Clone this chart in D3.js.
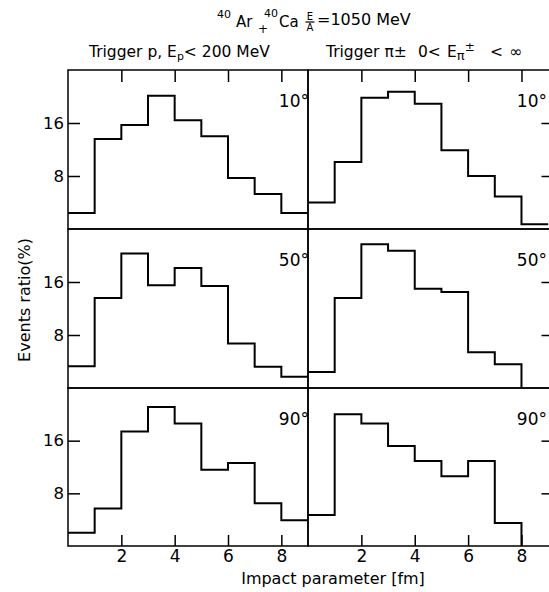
<!DOCTYPE html>
<html><head><meta charset="utf-8">
<script src="https://cdn.jsdelivr.net/npm/d3@7"></script>
<style>
body{margin:0;background:#fff}
svg{display:block}
text{font-family:"DejaVu Sans",sans-serif;fill:#000}
</style>
</head><body>
<svg id="c" width="549" height="592"></svg>
<script>
// ---- data ----
const impactBins = [0,1,2,3,4,5,6,7,8];           // lower bin edges, fm (bin width 1 fm)
const angleLabels = ["10°","50°","90°"];
const xTickValues = [2,4,6,8];
const yTickValues = [8,16];
const proton10 = [2.4, 13.6, 15.7, 20.1, 16.4, 14.0, 7.7, 5.3, 2.4];
const pion10   = [4.0, 10.1, 19.8, 20.7, 18.9, 11.9, 8.0, 4.9, 0.7];
const proton50 = [3.3, 13.6, 20.3, 15.5, 18.1, 15.4, 6.7, 3.2, 1.7];
const pion50   = [2.4, 13.6, 21.7, 20.7, 15.0, 14.5, 5.4, 3.6];
const proton90 = [2.0, 5.7, 17.4, 21.1, 18.6, 11.6, 12.6, 6.5, 3.9];
const pion90   = [4.7, 20.0, 18.6, 15.2, 12.9, 10.6, 12.9, 3.5];
const panelSeries = [[proton10, pion10],[proton50, pion50],[proton90, pion90]];
const yLabel = "Events ratio(%)";
const xLabel = "Impact parameter [fm]";

// ---- layout ----
const svg = d3.select("#c");
const colX = [[68,308],[308,553.5]];
const colDomain = [[0,9],[0,9.2]];
const rowY = [[70,229],[229,388],[388,546]];

panelSeries.forEach((row, r) => {
  row.forEach((vals, c) => {
    const x = d3.scaleLinear().domain(colDomain[c]).range(colX[c]);
    const y = d3.scaleLinear().domain([0,24]).range([rowY[r][1], rowY[r][0]]);
    const g = svg.append("g");
    g.append("rect")
      .attr("x", colX[c][0]).attr("y", rowY[r][0])
      .attr("width", colX[c][1]-colX[c][0]).attr("height", rowY[r][1]-rowY[r][0])
      .attr("fill","none").attr("stroke","#000").attr("stroke-width",1.5);
    const pts = vals.map((v,i) => [impactBins[i], v]);
    const end = impactBins[vals.length-1] + 1;
    pts.push([end, vals[vals.length-1]]);
    if (end < 9) pts.push([end, 0]);
    const line = d3.line().x(d => x(d[0])).y(d => y(d[1])).curve(d3.curveStepAfter);
    g.append("path").attr("d", line(pts)).attr("fill","none")
      .attr("stroke","#000").attr("stroke-width",2).attr("stroke-linejoin","miter");
    if (r === 0) {
      const a = g.append("g").attr("transform",`translate(0,${rowY[r][0]})`)
        .call(d3.axisTop(x).tickValues(xTickValues).tickSize(-12).tickFormat(""));
      a.select(".domain").remove();
    }
    if (r === 2) {
      const a = g.append("g").attr("transform",`translate(0,${rowY[r][1]})`)
        .call(d3.axisBottom(x).tickValues(xTickValues).tickSize(-11).tickPadding(4));
      a.select(".domain").remove();
      a.selectAll("text").style("font-family","DejaVu Sans").style("font-size","17px");
    }
    if (c === 0) {
      const a = g.append("g").attr("transform",`translate(${colX[c][0]},0)`)
        .call(d3.axisLeft(y).tickValues(yTickValues).tickSize(-12).tickPadding(4));
      a.select(".domain").remove();
      a.selectAll("text").style("font-family","DejaVu Sans").style("font-size","16.5px");
    } else {
      const a = g.append("g").attr("transform",`translate(${colX[c][1]},0)`)
        .call(d3.axisRight(y).tickValues(yTickValues).tickSize(-12).tickFormat(""));
      a.select(".domain").remove();
    }
    g.selectAll(".tick line").attr("stroke-width",1.5);
    g.append("text").attr("x", c === 0 ? 309 : 547).attr("y", rowY[r][0]+37)
      .attr("text-anchor","end").style("font-size","17px").text(angleLabels[r]);
  });
});

// ---- title ----
const t = svg.append("g");
t.append("text").attr("x",217).attr("y",18).style("font-size","11px").text("40");
t.append("text").attr("x",236).attr("y",27).style("font-size","15px").text("Ar");
t.append("text").attr("x",258).attr("y",33).style("font-size","12px").text("+");
t.append("text").attr("x",264).attr("y",17).style("font-size","11px").text("40");
t.append("text").attr("x",279).attr("y",27).style("font-size","15px").text("Ca");
t.append("text").attr("x",310).attr("y",20).attr("text-anchor","middle").style("font-size","10px").text("E");
t.append("line").attr("x1",305.5).attr("x2",314.5).attr("y1",22).attr("y2",22).attr("stroke","#000").attr("stroke-width",1.2);
t.append("text").attr("x",310).attr("y",31).attr("text-anchor","middle").style("font-size","10px").text("A");
t.append("text").attr("x",317).attr("y",25).style("font-size","16px").text("=1050 MeV");

// ---- column headings ----
const h1 = svg.append("text").attr("x",89).attr("y",57).style("font-size","15.5px");
h1.append("tspan").text("Trigger p, E");
h1.append("tspan").attr("dy",3).style("font-size","11px").text("p");
h1.append("tspan").attr("dy",-3).text("< 200 MeV");

const h2 = svg.append("text").attr("x",326).attr("y",57).style("font-size","15.5px");
h2.append("tspan").text("Trigger π±");
h2.append("tspan").attr("x",418).text("0<");
h2.append("tspan").attr("x",447).text("E");
h2.append("tspan").attr("dy",3).style("font-size","13px").text("π");
h2.append("tspan").attr("dy",-9).style("font-size","12px").text("±");
h2.append("tspan").attr("x",490).attr("dy",6).text("<");
h2.append("tspan").attr("x",509).text("∞");

// ---- axis titles ----
svg.append("text").attr("transform","translate(30,300) rotate(-90)")
  .attr("text-anchor","middle").style("font-size","16px").text(yLabel);
svg.append("text").attr("x",333).attr("y",584)
  .attr("text-anchor","middle").style("font-size","16px").text(xLabel);
</script>
</body></html>
